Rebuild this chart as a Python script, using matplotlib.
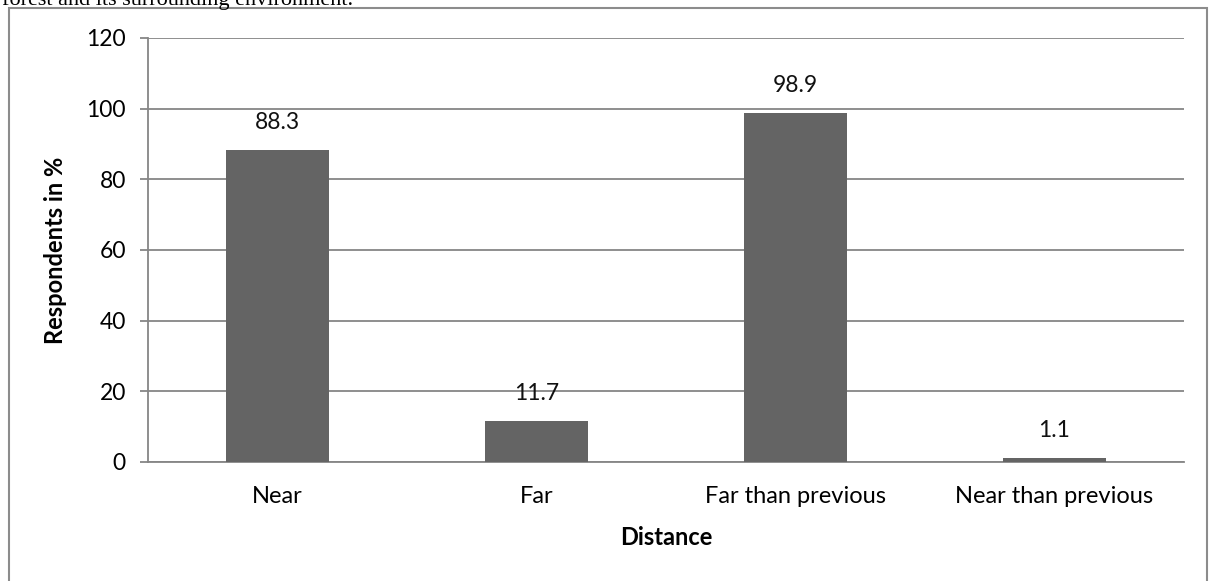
import matplotlib
matplotlib.use("Agg")
import matplotlib.pyplot as plt
from matplotlib.patches import Rectangle

categories = ["Near", "Far", "Far than previous", "Near than previous"]
respondents_pct = [88.3, 11.7, 98.9, 1.1]
y_ticks = [0, 20, 40, 60, 80, 100, 120]

BAR = "#646464"
GRID = "#868686"

plt.rcParams["font.family"] = ["Lato", "DejaVu Sans"]

W, H = 1209, 581
fig = plt.figure(figsize=(W / 100, H / 100), dpi=100)

# axes box in pixel terms: left 148, right 1184, top 38, bottom 462
ax = fig.add_axes([148 / W, 1 - 462 / H, (1184 - 148) / W, (462 - 38) / H])

x = list(range(len(categories)))
ax.bar(x, respondents_pct, width=0.4, color=BAR, zorder=3)
for xi, v in zip(x, respondents_pct):
    ax.annotate(f"{v:g}", (xi, v), xytext=(0, 12), textcoords="offset points",
                ha="center", va="bottom", fontsize=16.5, color="#111111")

ax.set_xlim(-0.5, len(categories) - 0.5)
ax.set_ylim(0, 120)
ax.set_yticks(y_ticks)
ax.set_xticks(x)
ax.set_xticklabels(categories)
ax.yaxis.grid(True, color=GRID, linewidth=1.3, zorder=0)
ax.tick_params(axis="y", length=6, width=1.3, color=GRID, pad=10, labelsize=16.5)
ax.tick_params(axis="x", length=0, pad=17, labelsize=17)
for side in ("top", "right"):
    ax.spines[side].set_visible(False)
for side in ("left", "bottom"):
    ax.spines[side].set_color(GRID)
    ax.spines[side].set_linewidth(1.3)

ax.set_ylabel("Respondents in %", fontsize=17, fontweight="bold", labelpad=14)
ax.set_xlabel("Distance", fontsize=17, fontweight="bold", labelpad=14)

# chart frame and the tail of the caption above it
fig.patches.append(Rectangle((9 / W, -0.05), (W - 9 - 2) / W, 1 - 8 / H + 0.05,
                             transform=fig.transFigure, fill=False,
                             edgecolor="#8c8c8c", linewidth=1.5))
fig.text(2 / W, 1 - 5 / H, "forest and its surrounding environment.",
         family="Liberation Serif", fontsize=16, ha="left", va="baseline")

fig.savefig("out.png", dpi=100)
